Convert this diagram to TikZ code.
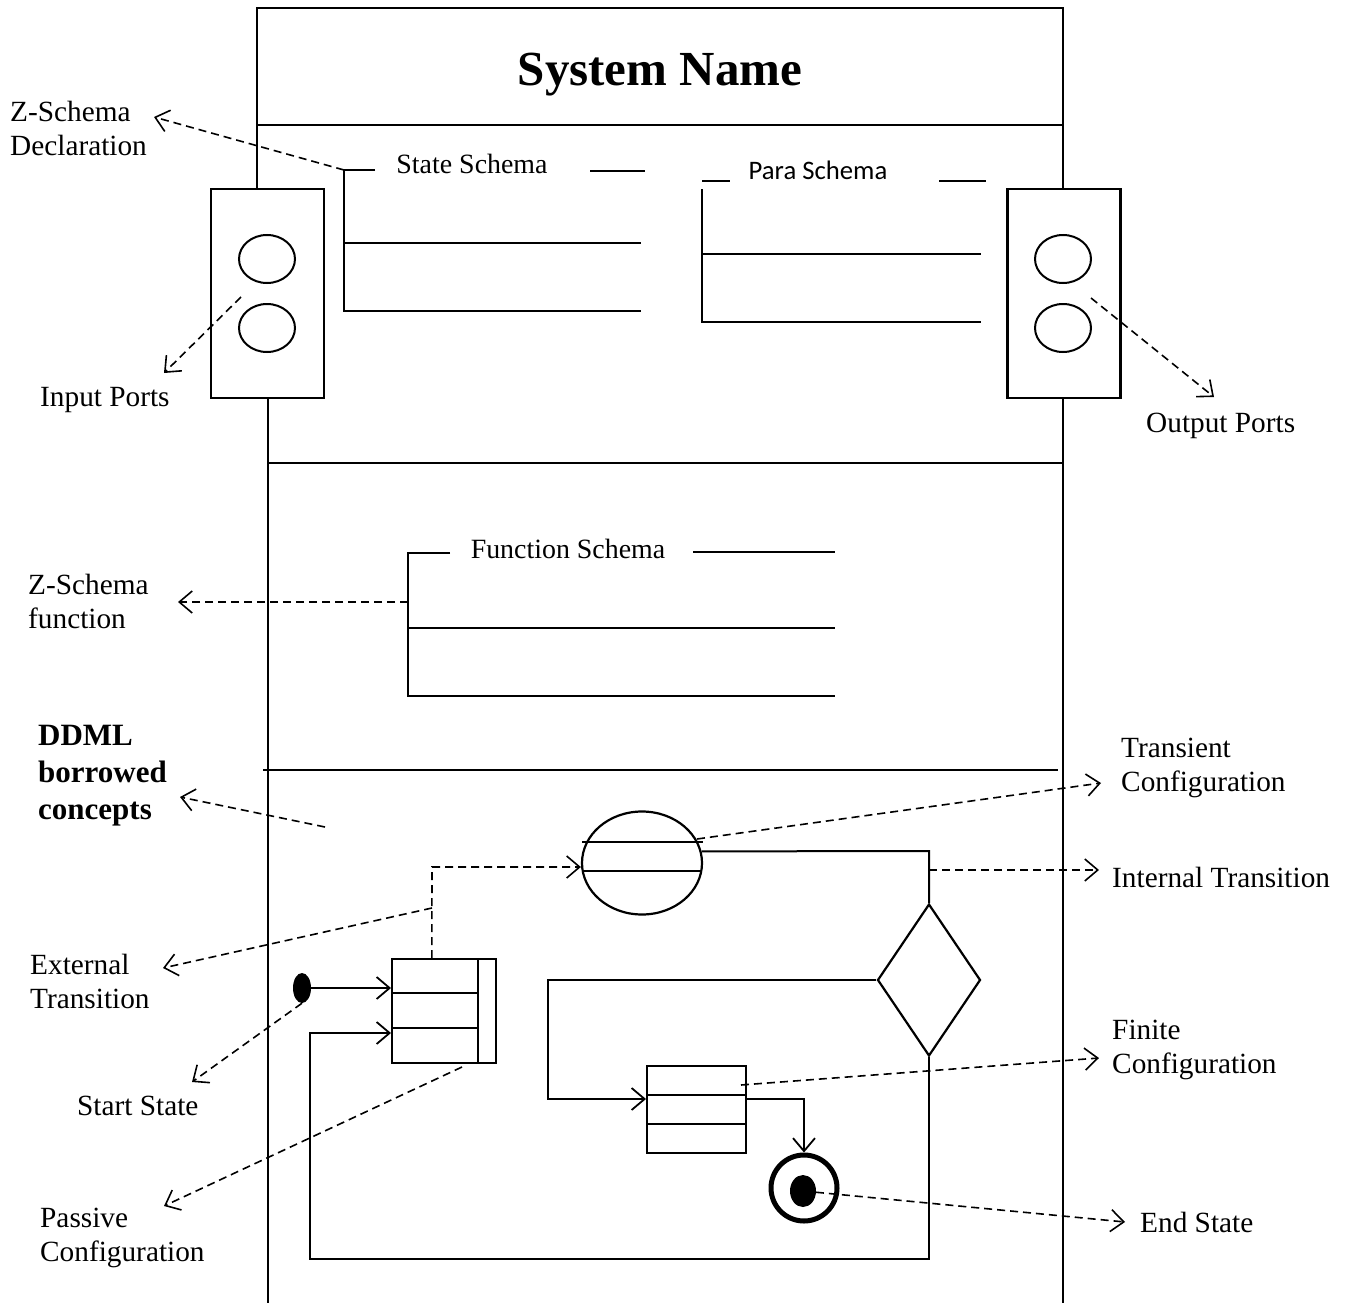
\documentclass[tikz,border=0pt]{standalone}
\usepackage{fontspec}
\setmainfont{Liberation Serif}
\newfontfamily\parafont{Carlito}
\usetikzlibrary{arrows.meta,shapes.geometric,calc}

\tikzset{
  frame/.style={line width=2pt},
  rule/.style={line width=1.7pt},
  callout/.style={line width=1.6pt, dash pattern=on 8pt off 5pt,
    -{Straight Barb[length=13pt,width=22pt,line width=1.6pt]}},
  flow/.style={line width=2pt,
    -{Straight Barb[length=13pt,width=22pt,line width=1.8pt]}},
  portbox/.style={draw, rectangle, line width=2.2pt, minimum width=113pt,
    minimum height=209pt, inner sep=0pt},
  port/.style={draw, ellipse, line width=2pt, minimum width=56pt,
    minimum height=48pt, inner sep=0pt},
  cfgbox/.style={draw, rectangle, line width=2pt, inner sep=0pt},
  lbl/.style={font=\fontsize{29.3}{34}\selectfont, anchor=west, inner sep=0pt, align=left},
  schemaname/.style={font=\fontsize{27.9}{32}\selectfont, inner sep=0pt},
}

\begin{document}
\begin{tikzpicture}[x=1pt,y=-1pt]
\useasboundingbox (0,0) rectangle (1347,1303);

% ---- header with the system name
\draw[frame] (257,188) -- (257,8) -- (1063,8) -- (1063,188);
\draw[frame] (257,125) -- (1063,125);
\node[font=\fontsize{49}{56}\selectfont\bfseries, anchor=base, inner sep=0pt] (title) at (660,86) {System Name};

% ---- body compartments
\draw[frame] (268,398) -- (268,1303);
\draw[frame] (1063,398) -- (1063,1303);
\draw[frame] (268,463) -- (1063,463);
\draw[frame] (263,770) -- (1058,770);

% ---- ports
\node[portbox] (inport) at (267.5,293.5) {};
\node[port] (in1) at (267,259) {};
\node[port] (in2) at (267,328) {};
\node[portbox] (outport) at (1064,293.5) {};
\node[port] (out1) at (1063,259) {};
\node[port] (out2) at (1063,328) {};

% ---- state schema
\node[schemaname] (statename) at (472,164) {State Schema};
\draw[rule] (375,170) -- (344,170) -- (344,311) -- (641,311);
\draw[rule] (344,243) -- (641,243);
\draw[rule] (590,171) -- (645,171);
\coordinate (stateCorner) at (344,170);

% ---- para schema
\node[inner sep=0pt, font=\parafont\fontsize{26.7}{31}\selectfont] (paraname) at (818,170) {Para Schema};
\draw[rule] (702,181) -- (730,181);
\draw[rule] (939,181) -- (986,181);
\draw[rule] (702,189) -- (702,322) -- (981,322);
\draw[rule] (702,254) -- (981,254);

% ---- function schema
\node[schemaname] (funcname) at (568,549) {Function Schema};
\draw[rule] (450,553) -- (408,553) -- (408,696) -- (835,696);
\draw[rule] (408,628) -- (835,628);
\draw[rule] (693,552) -- (835,552);
\coordinate (funcSide) at (408,602);

% ---- DDML configurations
\node[draw, ellipse, line width=2.2pt, minimum width=120pt, minimum height=103pt, inner sep=0pt] (transient) at (642,863) {};
\draw[rule] (582,842) -- (703,842);
\draw[rule] (583,871) -- (701,871);

\node[draw, diamond, line width=2.2pt, minimum width=103pt, minimum height=152pt, inner sep=0pt] (choice) at (929,980) {};

\node[cfgbox, minimum width=104pt, minimum height=104pt] (passive) at (444,1011) {};
\draw[rule] (478,959) -- (478,1063);
\draw[rule] (392,993) -- (478,993);
\draw[rule] (392,1028) -- (478,1028);

\node[cfgbox, minimum width=99pt, minimum height=87pt] (finite) at (696.5,1109.5) {};
\draw[rule] (647,1095) -- (746,1095);
\draw[rule] (647,1124) -- (746,1124);

\node[draw, circle, line width=5pt, minimum size=66pt, inner sep=0pt] (endring) at (804,1188) {};
\node[fill, ellipse, minimum width=26pt, minimum height=32pt, inner sep=0pt] (enddot) at (803,1191) {};
\node[fill, ellipse, minimum width=18pt, minimum height=30pt, inner sep=0pt] (start) at (302,988) {};

% ---- transitions
\coordinate (elbowD) at (929,851);
\draw[frame] (transient.11) -- (elbowD) -- (choice.north);

\coordinate (elbowA) at (548,980);
\coordinate (elbowB) at (548,1099);
\draw[flow] (choice.west) -- (elbowA) -- (elbowB) -- (elbowB -| finite.west);

\coordinate (elbowC) at (804,1099);
\draw[flow] (elbowC -| finite.east) -- (elbowC) -- (endring.north);

\coordinate (loopRight) at (929,1259);
\coordinate (loopLow) at (310,1259);
\coordinate (loopUp) at (310,1033);
\draw[flow] (choice.south) -- (loopRight) -- (loopLow) -- (loopUp) -- (loopUp -| passive.west);

\draw[flow] (start.east) -- (start.east -| passive.west);

\coordinate (extFoot) at ($(passive.north west)!0.385!(passive.north east)$);
\coordinate (extBend) at (432,867);
\draw[callout] (extFoot) -- (extBend) -- (extBend -| transient.west);

% ---- annotation labels
\node[lbl] (zdecl) at (10,128) {Z-Schema\\Declaration};
\node[lbl] (inlbl) at (40,400) {Input Ports};
\node[lbl] (outlbl) at (1146,426) {Output Ports};
\node[lbl] (zfunc) at (28,601) {Z-Schema\\function};
\node[lbl, font=\fontsize{31}{37}\selectfont\bfseries] (ddml) at (38,776) {DDML\\borrowed\\concepts};
\node[lbl] (translbl) at (1121,768) {Transient\\Configuration};
\node[lbl] (intlbl) at (1112,877) {Internal Transition};
\node[lbl] (extlbl) at (30,981) {External\\Transition};
\node[lbl] (startlbl) at (77,1106) {Start State};
\node[lbl] (finlbl) at (1112,1050) {Finite\\Configuration};
\node[lbl] (passlbl) at (40,1238) {Passive\\Configuration};
\node[lbl] (endlbl) at (1140,1222) {End State};

% ---- annotation pointers
\coordinate (declTip) at (154,117);
\coordinate (inSrc) at (241,297);   \coordinate (inTip) at (164,373);
\coordinate (outSrc) at (1091,298); \coordinate (outTip) at (1214,397);
\coordinate (funcTip) at (178,602);
\coordinate (ddmlSrc) at (325,827); \coordinate (ddmlTip) at (180,797);
\coordinate (transSrc) at (697,839); \coordinate (transTip) at (1101,783);
\coordinate (intSrc) at (929,870);  \coordinate (intTip) at (1099,870);
\coordinate (extSrc) at (432,908);  \coordinate (extTip) at (163,968);
\coordinate (startTip) at (192,1082);
\coordinate (passSrc) at (462,1067); \coordinate (passTip) at (164,1206);
\coordinate (finSrc) at (741,1085); \coordinate (finTip) at (1099,1058);
\coordinate (endTip) at (1125,1222);

\draw[callout] (stateCorner) -- (declTip);
\draw[callout] (inSrc) -- (inTip);
\draw[callout] (outSrc) -- (outTip);
\draw[callout] (funcSide) -- (funcTip);
\draw[callout] (ddmlSrc) -- (ddmlTip);
\draw[callout] (transSrc) -- (transTip);
\draw[callout] (intSrc) -- (intTip);
\draw[callout] (extSrc) -- (extTip);
\draw[callout] (start.south) -- (startTip);
\draw[callout] (passSrc) -- (passTip);
\draw[callout] (finSrc) -- (finTip);
\draw[callout] (enddot.center) -- (endTip);
\end{tikzpicture}
\end{document}
